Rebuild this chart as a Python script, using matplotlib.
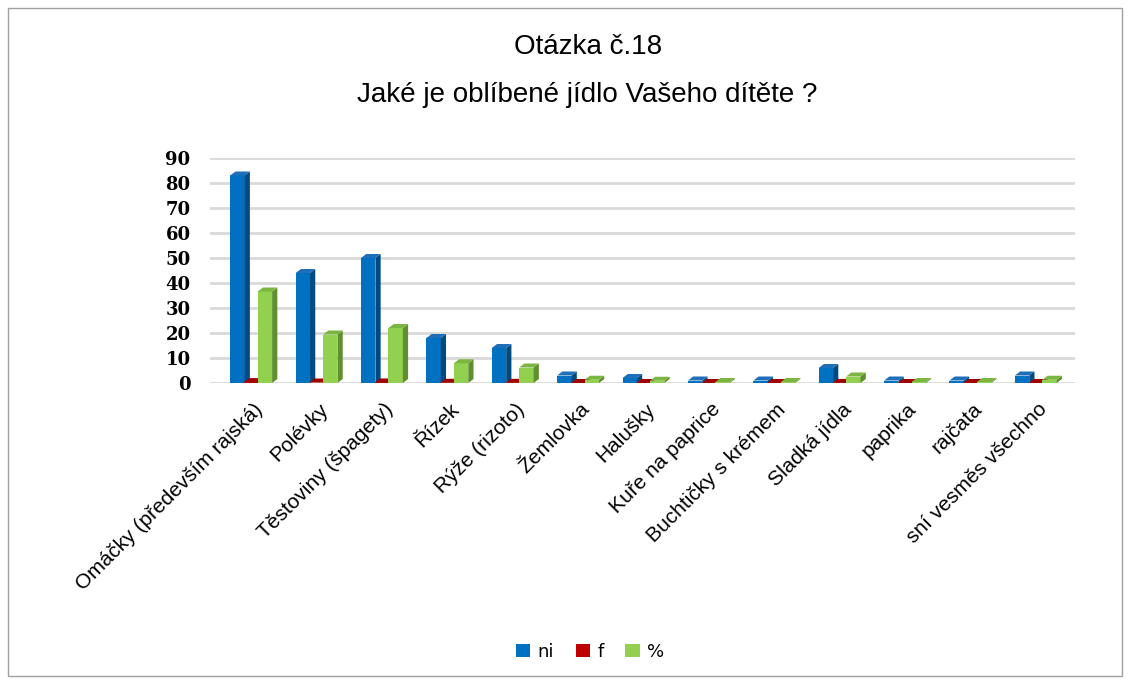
import matplotlib.pyplot as plt
import numpy as np
from matplotlib.patches import Rectangle, Polygon

categories = [
    "Omáčky (především rajská)", "Polévky", "Těstoviny (špagety)", "Řízek",
    "Rýže (rizoto)", "Žemlovka", "Halušky", "Kuře na paprice",
    "Buchtičky s krémem", "Sladká jídla", "paprika", "rajčata",
    "sní vesměs všechno",
]
ni = [83, 44, 50, 18, 14, 3, 2, 1, 1, 6, 1, 1, 3]
f = [0.37, 0.19, 0.22, 0.08, 0.06, 0.01, 0.01, 0.0, 0.0, 0.03, 0.0, 0.0, 0.01]
pct = [36.6, 19.4, 22.0, 7.9, 6.2, 1.3, 0.9, 0.4, 0.4, 2.6, 0.4, 0.4, 1.3]

series = [("ni", ni, "#0070c0", "#004a80", "#1f6fb8"),
          ("f", f, "#c00000", "#800000", "#a00000"),
          ("%", pct, "#92d050", "#5f8f2e", "#7ab640")]

fig = plt.figure(figsize=(11.3, 6.84), dpi=100)
fig.patches.append(Rectangle((8 / 1130, 8 / 684), 1114 / 1130, 668 / 684,
                             transform=fig.transFigure, fill=False,
                             edgecolor="#a0a0a0", linewidth=1))

ax = fig.add_axes([210 / 1130, 301 / 684, 865 / 1130, 225 / 684])
x = np.arange(len(categories))
width = 0.22
dx, dy = 0.08, 1.6  # fake depth of the 3D columns
for k, (name, vals, color, side, top) in enumerate(series):
    xs = x + (k - 1) * 0.21 - 0.03
    ax.bar(xs, vals, width=width, color=color, linewidth=0, label=name,
           zorder=3)
    for xi, v in zip(xs, vals):
        r = xi + width / 2
        l = xi - width / 2
        ax.add_patch(Polygon([(r, 0), (r + dx, dy), (r + dx, v + dy), (r, v)],
                             closed=True, color=side, lw=0, zorder=3))
        ax.add_patch(Polygon([(l, v), (l + dx, v + dy), (r + dx, v + dy), (r, v)],
                             closed=True, color=top, lw=0, zorder=3))

ax.set_xlim(-0.66, 12.57)
ax.set_ylim(0, 90)
ax.set_yticks(range(0, 91, 10))
ax.grid(axis="y", color="#d9d9d9", linewidth=2, zorder=0)
for s in ax.spines.values():
    s.set_visible(False)
ax.tick_params(axis="y", length=0, pad=14)
for lbl in ax.get_yticklabels():
    lbl.set_family("DejaVu Serif")
    lbl.set_fontweight("bold")
    lbl.set_fontsize(13)
ax.set_xticks(x)
ax.set_xticklabels(categories, rotation=45, ha="right", rotation_mode="anchor",
                   fontsize=15, family="Liberation Sans")
ax.tick_params(axis="x", length=0, pad=12)

fig.text(0.52, 0.931, "Otázka č.18", ha="center", va="center",
         fontsize=20, family="Liberation Sans")
fig.text(0.52, 0.861, "Jaké je oblíbené jídlo Vašeho dítěte ?", ha="center",
         va="center", fontsize=20, family="Liberation Sans")

fig.legend(loc="center", bbox_to_anchor=(0.522, 0.047), ncol=3, frameon=False,
           fontsize=13, handlelength=0.8, handleheight=0.8, handletextpad=0.4,
           columnspacing=1.2)

fig.savefig("out.png", dpi=100)
